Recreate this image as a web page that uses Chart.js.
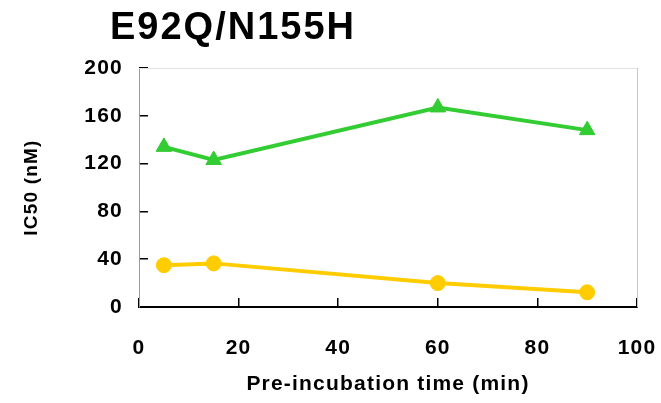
<!DOCTYPE html>
<html lang="en">
<head>
    <meta charset="UTF-8">
    <title>E92Q/N155H</title>
    <script src="https://cdn.jsdelivr.net/npm/chart.js"></script>
    <style>
        html, body { margin: 0; padding: 0; background: #fff; }
        #wrap { width: 661px; height: 403px; }
    </style>
</head>
<body>
    <div id="wrap"><canvas id="chart" width="661" height="403"></canvas></div>

    <script>
        // values
        const chartTitle = 'E92Q/N155H';
        const times = [5, 15, 60, 90];
        const greenValues = [134, 123, 167, 148];
        const yellowValues = [35, 36.5, 20, 12.3];
        const xTitle = 'Pre-incubation time (min)';
        const yTitle = 'IC50 (nM)';

        const FONT = "'Liberation Sans', Arial, sans-serif";

        function toPoints(xs, ys) {
            return xs.map((x, i) => ({ x: x, y: ys[i] }));
        }

        // the original is a bit stretched sideways, so widen the text a little
        const spacingAndFrame = {
            id: 'spacingAndFrame',
            beforeUpdate(chart) { chart.ctx.letterSpacing = '1.2px'; },
            beforeDraw(chart) { chart.ctx.letterSpacing = '1.2px'; },
            afterDraw(chart) {
                const ctx = chart.ctx;
                const a = chart.chartArea;
                ctx.save();
                // top and right frame lines
                ctx.lineWidth = 1;
                ctx.strokeStyle = '#e2e2e2';
                ctx.beginPath();
                ctx.moveTo(a.left, a.top + 0.5);
                ctx.lineTo(a.right, a.top + 0.5);
                ctx.stroke();
                ctx.strokeStyle = '#c8c8c8';
                ctx.beginPath();
                ctx.moveTo(a.right + 0.5, a.top);
                ctx.lineTo(a.right + 0.5, a.bottom);
                ctx.stroke();
                // big title
                ctx.letterSpacing = '2px';
                ctx.fillStyle = '#000';
                ctx.font = 'bold 38px ' + FONT;
                ctx.textAlign = 'left';
                ctx.textBaseline = 'alphabetic';
                ctx.fillText(chartTitle, 110, 39);
                ctx.restore();
            }
        };

        new Chart(document.getElementById('chart'), {
            type: 'line',
            data: {
                datasets: [
                    {
                        data: toPoints(times, yellowValues),
                        borderColor: '#ffcc00',
                        backgroundColor: '#ffcc00',
                        borderWidth: 4,
                        pointStyle: 'circle',
                        pointRadius: 7.5,
                        pointBorderWidth: 1,
                        pointBackgroundColor: '#ffcc00',
                        pointBorderColor: '#ffcc00',
                        tension: 0
                    },
                    {
                        data: toPoints(times, greenValues),
                        borderColor: '#33cc33',
                        backgroundColor: '#33cc33',
                        borderWidth: 4,
                        pointStyle: 'triangle',
                        pointRadius: 9,
                        pointBorderWidth: 1,
                        pointBackgroundColor: '#33cc33',
                        pointBorderColor: '#33cc33',
                        tension: 0
                    }
                ]
            },
            options: {
                responsive: false,
                animation: false,
                layout: { padding: { top: 68, right: 24, left: 0, bottom: 0 } },
                plugins: {
                    legend: { display: false },
                    title: { display: false },
                    tooltip: { enabled: false }
                },
                scales: {
                    x: {
                        type: 'linear',
                        min: 0,
                        max: 100,
                        ticks: {
                            stepSize: 20,
                            color: '#000',
                            padding: 38,
                            font: { family: FONT, size: 21, weight: 'bold' }
                        },
                        grid: {
                            drawOnChartArea: false,
                            tickLength: -9,
                            color: '#000',
                            lineWidth: 1.5
                        },
                        border: { color: '#000', width: 2 },
                        title: {
                            display: true,
                            text: xTitle,
                            color: '#000',
                            padding: { top: 0, bottom: 6 },
                            font: { family: FONT, size: 21, weight: 'bold' }
                        },
                        afterFit(scale) {
                            scale.height = 96;
                            scale.paddingLeft = 0;
                            scale.paddingRight = 0;
                        }
                    },
                    y: {
                        min: 0,
                        max: 200,
                        ticks: {
                            stepSize: 40,
                            color: '#000',
                            padding: 25,
                            font: { family: FONT, size: 21, weight: 'bold' }
                        },
                        grid: {
                            drawOnChartArea: false,
                            tickLength: -9,
                            color: '#000',
                            lineWidth: 1.5
                        },
                        border: { color: '#9a9a9a', width: 1 },
                        title: {
                            display: true,
                            text: yTitle,
                            color: '#000',
                            padding: { top: 20, bottom: 0 },
                            font: { family: FONT, size: 19, weight: 'bold' }
                        },
                        afterFit(scale) {
                            scale.width = 139;
                            scale.paddingTop = 0;
                            scale.paddingBottom = 0;
                        }
                    }
                }
            },
            plugins: [spacingAndFrame]
        });
    </script>
</body>
</html>
